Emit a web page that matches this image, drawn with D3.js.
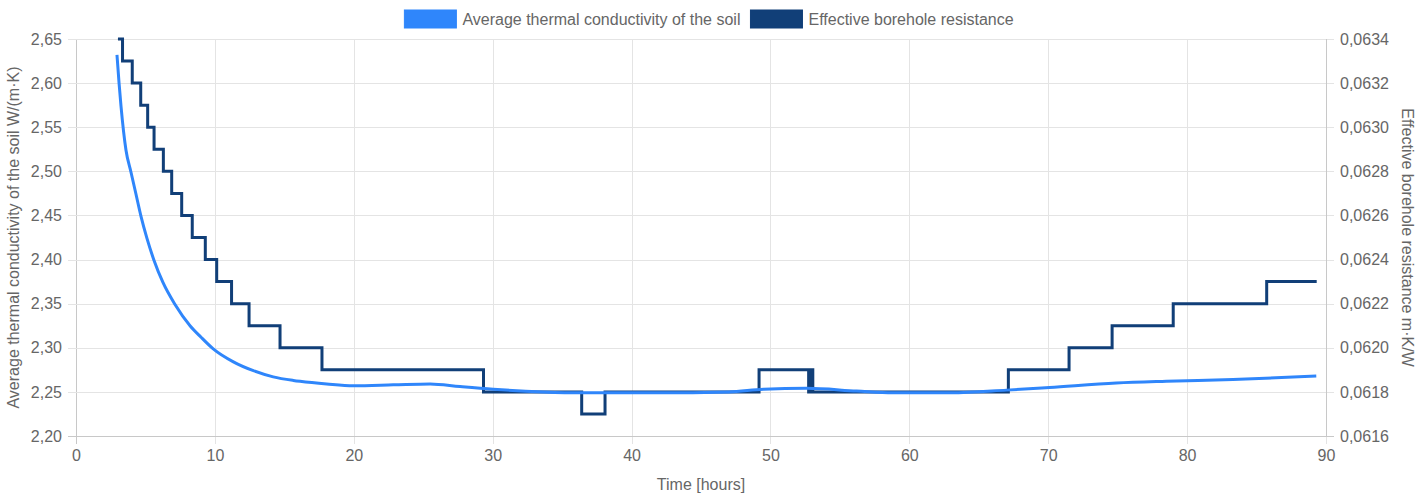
<!DOCTYPE html>
<html>
<head>
<meta charset="utf-8">
<script src="https://cdn.jsdelivr.net/npm/d3@7"></script>
<style>
  body { margin: 0; background: #fff; }
  svg { display: block; font-family: "Liberation Sans", Arial, sans-serif; }
</style>
</head>
<body>
<svg id="chart" width="1420" height="500"></svg>
<script>
// series names
const seriesNames = ["Average thermal conductivity of the soil", "Effective borehole resistance"];

// conductivity curve (hours / W/(m·K))
const condHours = [2.95, 3.1, 3.24, 3.6, 3.96, 4.32, 4.68, 5.11, 5.62, 6.26, 7.13, 8.21, 9.0, 9.86, 11.33, 12.77, 14.2, 15.65, 16.13, 18.05, 19.97, 22.85, 25.5, 27.65, 30.04, 33.64, 36.3, 41.8, 47.0, 49.5, 52.6, 56.2, 58.8, 63.0, 67.0, 70.1, 74.9, 78.5, 83.3, 89.3];
const condValues = [2.632, 2.600, 2.574, 2.524, 2.499, 2.474, 2.449, 2.424, 2.399, 2.374, 2.349, 2.325, 2.312, 2.299, 2.284, 2.274, 2.267, 2.263, 2.262, 2.259, 2.257, 2.258, 2.259, 2.256, 2.253, 2.250, 2.249, 2.249, 2.250, 2.253, 2.254, 2.251, 2.249, 2.249, 2.252, 2.255, 2.260, 2.262, 2.264, 2.268];

// borehole resistance steps (hours / m·K/W)
const resHours = [3.02, 3.35, 4.05, 4.66, 5.16, 5.62, 6.29, 6.89, 7.61, 8.37, 9.31, 10.13, 11.2, 12.46, 14.69, 17.71, 29.34, 36.41, 38.09, 49.18, 52.75, 52.9, 53.05, 67.13, 71.5, 74.6, 79.0, 85.73, 89.33];
const resValues = [0.0634, 0.0633, 0.0632, 0.0631, 0.0630, 0.0629, 0.0628, 0.0627, 0.0626, 0.0625, 0.0624, 0.0623, 0.0622, 0.0621, 0.0620, 0.0619, 0.0618, 0.0617, 0.0618, 0.0619, 0.0618, 0.0619, 0.0618, 0.0619, 0.0620, 0.0621, 0.0622, 0.0623, 0.0623];

// tick labels
const xTicks = [0, 10, 20, 30, 40, 50, 60, 70, 80, 90];
const leftTicks = [2.20, 2.25, 2.30, 2.35, 2.40, 2.45, 2.50, 2.55, 2.60, 2.65];
const rightTicks = [0.0616, 0.0618, 0.0620, 0.0622, 0.0624, 0.0626, 0.0628, 0.0630, 0.0632, 0.0634];

const colors = ["#2f86fb", "#113f78"];
const textColor = "#666";

const svg = d3.select("#chart");
const pL = 76, pR = 1326, pT = 39, pB = 436;

const x = d3.scaleLinear().domain([0, 90]).range([pL, pR]);
const yL = d3.scaleLinear().domain([2.20, 2.65]).range([pB, pT]);
const yR = d3.scaleLinear().domain([0.0616, 0.0634]).range([pB, pT]);

const commaFmt = (f) => (v) => d3.format(f)(v).replace(".", ",");

// grid
const grid = svg.append("g");
grid.selectAll(".gx").data(xTicks).enter().append("line")
  .attr("x1", d => Math.round(x(d)) + 0.5).attr("x2", d => Math.round(x(d)) + 0.5)
  .attr("y1", pT).attr("y2", pB + 8)
  .attr("stroke", d => d === 0 ? "#c8c8c8" : "#e4e4e4").attr("stroke-width", 1);
grid.selectAll(".gy").data(leftTicks).enter().append("line")
  .attr("x1", pL - 8).attr("x2", pR + 8)
  .attr("y1", d => Math.round(yL(d)) + 0.5).attr("y2", d => Math.round(yL(d)) + 0.5)
  .attr("stroke", d => d === 2.20 ? "#c8c8c8" : "#e4e4e4").attr("stroke-width", 1);
grid.append("line")
  .attr("x1", pR + 0.5).attr("x2", pR + 0.5).attr("y1", pT).attr("y2", pB)
  .attr("stroke", "#c8c8c8");

// axes (labels only)
const xAxis = svg.append("g").attr("transform", "translate(0," + (pB + 8) + ")")
  .call(d3.axisBottom(x).tickValues(xTicks).tickSize(0).tickPadding(6).tickFormat(d3.format("d")));
const lAxis = svg.append("g").attr("transform", "translate(" + (pL - 8) + ",0)")
  .call(d3.axisLeft(yL).tickValues(leftTicks).tickSize(0).tickPadding(6).tickFormat(commaFmt(".2f")));
const rAxis = svg.append("g").attr("transform", "translate(" + (pR + 8) + ",0)")
  .call(d3.axisRight(yR).tickValues(rightTicks).tickSize(0).tickPadding(6).tickFormat(commaFmt(".4f")));
[xAxis, lAxis, rAxis].forEach(a => {
  a.select(".domain").remove();
  a.selectAll("text").attr("fill", textColor).style("font-size", "16px")
    .style("font-family", "'Liberation Sans', Arial, sans-serif");
});

// axis titles
svg.append("text").attr("x", (pL + pR) / 2).attr("y", 490)
  .attr("text-anchor", "middle").attr("fill", textColor).style("font-size", "16px")
  .text("Time [hours]");
svg.append("text").attr("transform", "translate(19," + ((pT + pB) / 2) + ") rotate(-90)")
  .attr("text-anchor", "middle").attr("fill", textColor).style("font-size", "16px")
  .text("Average thermal conductivity of the soil W/(m·K)");
svg.append("text").attr("transform", "translate(1402," + ((pT + pB) / 2) + ") rotate(90)")
  .attr("text-anchor", "middle").attr("fill", textColor).style("font-size", "16px")
  .text("Effective borehole resistance m·K/W");

// lines
svg.append("defs").append("clipPath").attr("id", "clip")
  .append("rect").attr("x", pL).attr("y", pT - 2).attr("width", pR - pL).attr("height", pB - pT + 4);

const condData = condHours.map((h, i) => [h, condValues[i]]);
const resData = resHours.map((h, i) => [h, resValues[i]]);

svg.append("path").datum(resData)
  .attr("clip-path", "url(#clip)")
  .attr("fill", "none").attr("stroke", colors[1]).attr("stroke-width", 3)
  .attr("d", d3.line().x(d => x(d[0])).y(d => yR(d[1])).curve(d3.curveStepAfter));

svg.append("path").datum(condData)
  .attr("clip-path", "url(#clip)")
  .attr("fill", "none").attr("stroke", colors[0]).attr("stroke-width", 3)
  .attr("stroke-linejoin", "round")
  .attr("d", d3.line().x(d => x(d[0])).y(d => yL(d[1])).curve(d3.curveMonotoneX));

// legend
const legend = svg.append("g");
const items = legend.selectAll("g").data(seriesNames).enter().append("g");
items.append("rect").attr("width", 52).attr("height", 18).attr("y", 10)
  .attr("fill", (d, i) => colors[i]).attr("stroke", (d, i) => colors[i]);
items.append("text").attr("x", 58).attr("y", 25).attr("fill", textColor)
  .style("font-size", "16px").text(d => d);
const widths = [];
items.each(function () {
  widths.push(58 + this.querySelector("text").getComputedTextLength());
});
const total = d3.sum(widths) + 10 * (widths.length - 1);
let pos = (pL + pR) / 2 - total / 2 + 8;
items.attr("transform", (d, i) => {
  const t = "translate(" + pos + ",0)";
  pos += widths[i] + 10;
  return t;
});
</script>
</body>
</html>
